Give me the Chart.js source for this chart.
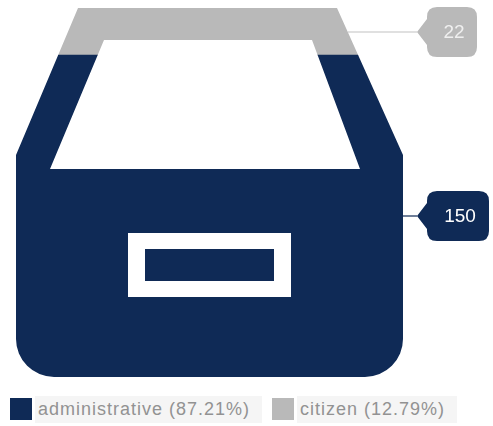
<!DOCTYPE html>
<html>
<head>
<meta charset="utf-8">
<script src="https://cdn.jsdelivr.net/npm/chart.js@4"></script>
<style>
  html, body { margin: 0; padding: 0; background: #fff; }
  #wrap { position: relative; width: 493px; height: 426px; overflow: hidden; }
  #wrap canvas { position: absolute; left: 0; top: 0; }
  .swatch { position: absolute; top: 398px; width: 22px; height: 22px; }
  .entry {
    position: absolute; top: 396px; height: 27px;
    background: #f5f5f5; color: #929292; box-sizing: border-box; padding-left: 3px;
    font: 18px "Liberation Sans", Arial, sans-serif; line-height: 27px;
    letter-spacing: 1px; white-space: nowrap;
  }
</style>
</head>
<body>
<div id="wrap">
  <canvas id="chart" width="493" height="390"></canvas>
</div>
<script>
const categories = ['administrative', 'citizen'];
const seriesValues = [150, 22];
const seriesColors = ['#0f2a56', '#b9b9b9'];
const legendSlots = [
  { swatch: 10, text: 35, width: 227 },
  { swatch: 272, text: 297, width: 160 }
];

// Filing-box outline on a 387 x 369 design grid; scaled onto the plot area.
const BOX_W = 387, BOX_H = 369;
const outer = { topL: 62, topR: 321, shoulder: 147, radius: 38 };
const opening = [[88, 32], [296, 32], [344, 161], [34, 161]];
const slotOuter = [112, 225, 163, 64];
const slotInner = [129, 241, 129, 32];

function traceBox(ctx, a) {
  const sx = a.width / BOX_W, sy = a.height / BOX_H;
  const X = v => a.left + v * sx, Y = v => a.top + v * sy;
  ctx.beginPath();
  ctx.moveTo(X(outer.topL), Y(0));
  ctx.lineTo(X(outer.topR), Y(0));
  ctx.lineTo(X(BOX_W), Y(outer.shoulder));
  ctx.arcTo(X(BOX_W), Y(BOX_H), X(0), Y(BOX_H), outer.radius);
  ctx.arcTo(X(0), Y(BOX_H), X(0), Y(outer.shoulder), outer.radius);
  ctx.lineTo(X(0), Y(outer.shoulder));
  ctx.closePath();
  opening.forEach((p, i) => i ? ctx.lineTo(X(p[0]), Y(p[1])) : ctx.moveTo(X(p[0]), Y(p[1])));
  ctx.closePath();
  [slotOuter, slotInner].forEach(r => ctx.rect(X(r[0]), Y(r[1]), r[2] * sx, r[3] * sy));
}

// Right-hand silhouette of the box at a given canvas height.
function boxRightEdge(a, y) {
  const shoulderY = a.top + outer.shoulder * a.height / BOX_H;
  if (y >= shoulderY) return a.right;
  const topX = a.left + outer.topR * a.width / BOX_W;
  return topX + (a.right - topX) * (y - a.top) / (shoulderY - a.top);
}

// The stacked bars only show through the box silhouette.
const boxClip = {
  id: 'boxClip',
  beforeDatasetsDraw(chart) {
    const ctx = chart.ctx;
    ctx.save();
    traceBox(ctx, chart.chartArea);
    ctx.clip('evenodd');
  },
  afterDatasetsDraw(chart) {
    chart.ctx.restore();
  }
};

// Value tags to the right of the box, each level with the middle of its segment.
const valueTags = {
  id: 'valueTags',
  afterDraw(chart) {
    const ctx = chart.ctx, a = chart.chartArea;
    const tipX = 417, bodyL = 427, r = 10, halfH = 25;
    const widths = [62, 50];
    chart.data.datasets.forEach((ds, i) => {
      const bar = chart.getDatasetMeta(i).data[0];
      const y = Math.round((bar.y + bar.base) / 2);
      const bodyR = bodyL + widths[i];
      ctx.save();
      ctx.strokeStyle = ds.backgroundColor;
      ctx.globalAlpha = i === 0 ? 0.8 : 0.6;
      ctx.lineWidth = 1.5;
      ctx.beginPath();
      ctx.moveTo(boxRightEdge(a, y), y);
      ctx.lineTo(tipX, y);
      ctx.stroke();
      ctx.globalAlpha = 1;
      ctx.fillStyle = ds.backgroundColor;
      ctx.beginPath();
      ctx.moveTo(tipX, y);
      ctx.lineTo(bodyL, y - 13);
      ctx.lineTo(bodyL, y - halfH + r);
      ctx.quadraticCurveTo(bodyL, y - halfH, bodyL + r, y - halfH);
      ctx.lineTo(bodyR - r, y - halfH);
      ctx.quadraticCurveTo(bodyR, y - halfH, bodyR, y - halfH + r);
      ctx.lineTo(bodyR, y + halfH - r);
      ctx.quadraticCurveTo(bodyR, y + halfH, bodyR - r, y + halfH);
      ctx.lineTo(bodyL + r, y + halfH);
      ctx.quadraticCurveTo(bodyL, y + halfH, bodyL, y + halfH - r);
      ctx.lineTo(bodyL, y + 13);
      ctx.closePath();
      ctx.fill();
      ctx.fillStyle = i === 0 ? '#ffffff' : '#efefef';
      ctx.font = '19px "Liberation Sans", Arial, sans-serif';
      ctx.textAlign = 'center';
      ctx.textBaseline = 'middle';
      ctx.fillText(String(ds.data[0]), (bodyL + bodyR) / 2 + 2, y + 1);
      ctx.restore();
    });
  }
};

const total = seriesValues.reduce((s, v) => s + v, 0);

new Chart(document.getElementById('chart'), {
  type: 'bar',
  data: {
    labels: ['share'],
    datasets: categories.map((name, i) => ({
      label: name,
      data: [seriesValues[i]],
      backgroundColor: seriesColors[i],
      borderWidth: 0,
      barPercentage: 1,
      categoryPercentage: 1
    }))
  },
  options: {
    responsive: false,
    animation: false,
    layout: { padding: { left: 16, right: 90, top: 8, bottom: 13 } },
    plugins: { legend: { display: false }, tooltip: { enabled: false } },
    scales: {
      x: { stacked: true, display: false },
      y: { stacked: true, display: false, min: 0, max: total }
    }
  },
  plugins: [boxClip, valueTags]
});

// Legend row beneath the chart.
const wrap = document.getElementById('wrap');
categories.forEach((name, i) => {
  const swatch = document.createElement('div');
  swatch.className = 'swatch';
  swatch.style.left = legendSlots[i].swatch + 'px';
  swatch.style.background = seriesColors[i];
  wrap.appendChild(swatch);
  const entry = document.createElement('div');
  entry.className = 'entry';
  entry.style.left = legendSlots[i].text + 'px';
  entry.style.width = legendSlots[i].width + 'px';
  entry.textContent = name + ' (' + (seriesValues[i] / total * 100).toFixed(2) + '%)';
  wrap.appendChild(entry);
});
</script>
</body>
</html>
